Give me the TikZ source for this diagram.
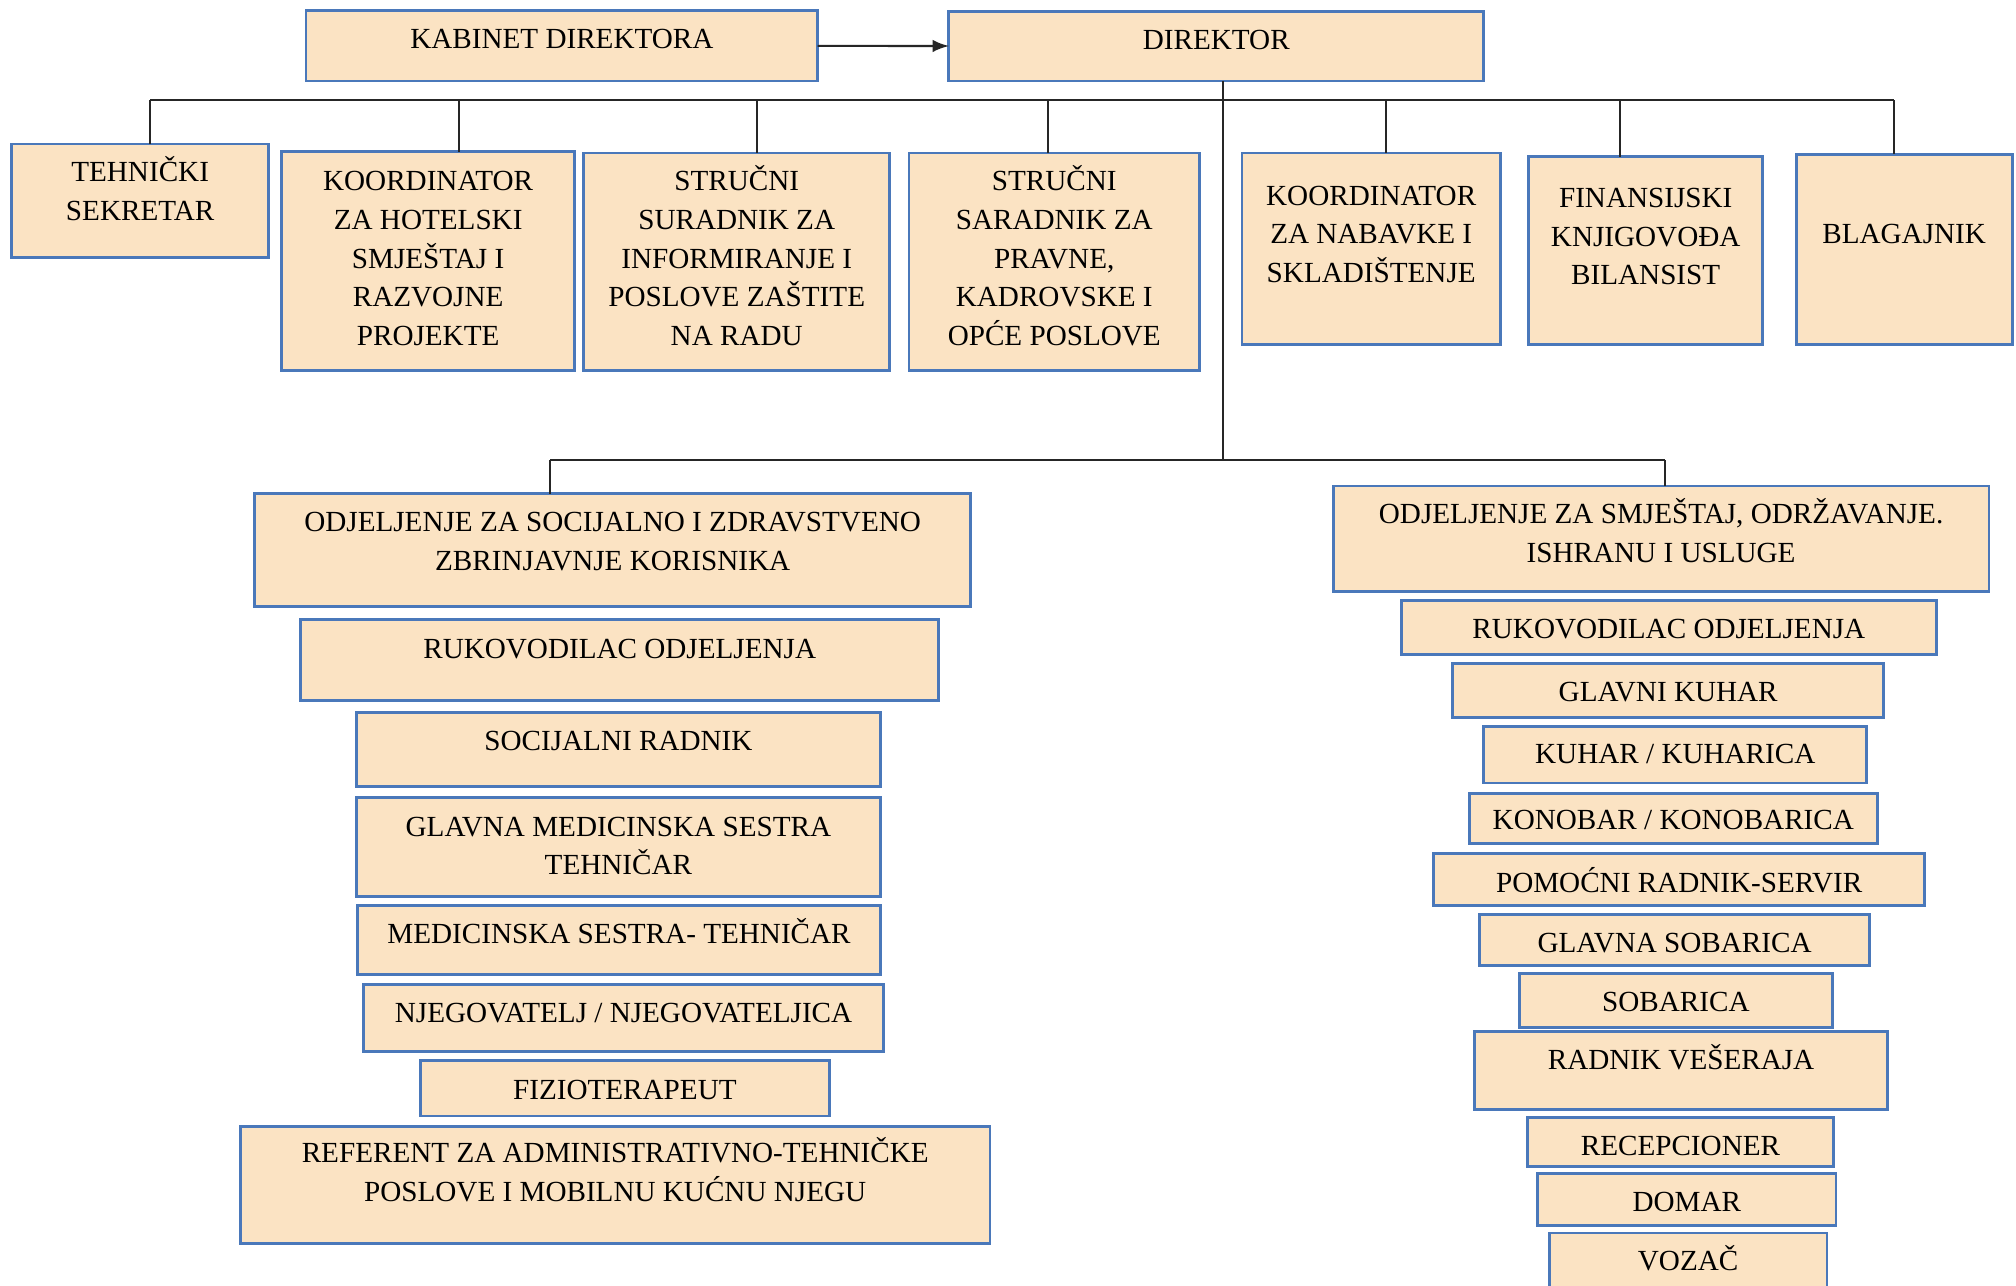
\documentclass[tikz,border=0pt]{standalone}
\usepackage{fontspec}
\setmainfont{Liberation Serif}
\usetikzlibrary{arrows,calc}
\newcommand{\myunit}{0.012857cm}
\definecolor{boxfill}{HTML}{FBE3C3}
\definecolor{boxline}{HTML}{4A78BA}
\tikzset{
    boxsty/.style={draw=boxline,fill=boxfill,line width=0.8pt,rectangle,inner sep=0pt,outer sep=0pt},
    txtsty/.style={inner sep=0pt,anchor=base,font=\fontsize{8.3}{11}\selectfont},
    linesty/.style={draw=black!85,line width=0.6pt},
}
% box from (x1,y1) to (x2,y2), text with first baseline at y
\newcommand{\orgbox}[7]{%
  \node[boxsty,minimum width={(#4-#2)*\myunit},minimum height={(#5-#3)*\myunit}] (#1) at ({(#2+#4)/2},{(#3+#5)/2}) {};
  \node[txtsty] (#1-t) at ({(#2+#4)/2},#6) {\begin{tabular}[t]{@{}c@{}}#7\end{tabular}};
}

\begin{document}
\begin{tikzpicture}[>=latex, x=\myunit, y=-\myunit]
  \clip (0,0) rectangle (1568,1000);
  \fill[white] (0,0) rectangle (1568,1000);

  % top
  \orgbox{kab}{238}{8}{636}{63}{37.5}{KABINET DIREKTORA}
  \orgbox{dir}{738}{9}{1154}{63}{38.5}{DIREKTOR}
  \draw[linesty,->] (kab) -- (dir);

  % staff row
  \orgbox{t1}{9}{112}{209}{200}{141.5}{TEHNIČKI\\SEKRETAR}
  \orgbox{t2}{219}{118}{447}{288}{148.5}{KOORDINATOR\\ZA HOTELSKI\\SMJEŠTAJ I\\RAZVOJNE\\PROJEKTE}
  \orgbox{t3}{454}{119}{692}{288}{148.5}{STRUČNI\\SURADNIK ZA\\INFORMIRANJE I\\POSLOVE ZAŠTITE\\NA RADU}
  \orgbox{t4}{707}{119}{933}{288}{148.5}{STRUČNI\\SARADNIK ZA\\PRAVNE,\\KADROVSKE I\\OPĆE POSLOVE}
  \orgbox{t5}{966}{119}{1167}{268}{159.5}{KOORDINATOR\\ZA NABAVKE I\\SKLADIŠTENJE}
  \orgbox{t6}{1189}{122}{1371}{268}{161.5}{FINANSIJSKI\\KNJIGOVOĐA\\BILANSIST}
  \orgbox{t7}{1397}{120}{1565}{268}{189.5}{BLAGAJNIK}

  \foreach \i/\dx in {1/117,2/357,3/589,4/815,5/1078,6/1260,7/1473}{
    \coordinate (d\i) at (\dx,78);
    \draw[linesty] (d\i) -- (d\i |- t\i.north);
  }
  \draw[linesty] (d1) -- (d7);

  % departments
  \orgbox{l0}{198}{384}{755}{472}{413.5}{ODJELJENJE ZA SOCIJALNO I ZDRAVSTVENO\\ZBRINJAVNJE KORISNIKA}
  \orgbox{l1}{234}{482}{730}{545}{512.5}{RUKOVODILAC ODJELJENJA}
  \orgbox{l2}{277}{554}{685}{612}{583.5}{SOCIJALNI RADNIK}
  \orgbox{l3}{277}{620}{685}{697}{650.5}{GLAVNA MEDICINSKA SESTRA\\TEHNIČAR}
  \orgbox{l4}{278}{704}{685}{758}{733.5}{MEDICINSKA SESTRA- TEHNIČAR}
  \orgbox{l5}{283}{766}{687}{818}{795.5}{NJEGOVATELJ / NJEGOVATELJICA}
  \orgbox{l6}{327}{825}{645}{868}{855.5}{FIZIOTERAPEUT}
  \orgbox{l7}{187}{876}{770}{967}{904.5}{REFERENT ZA ADMINISTRATIVNO-TEHNIČKE\\POSLOVE I MOBILNU KUĆNU NJEGU}

  \orgbox{r0}{1037}{378}{1547}{460}{407.5}{ODJELJENJE ZA SMJEŠTAJ, ODRŽAVANJE.\\ISHRANU I USLUGE}
  \orgbox{r1}{1090}{467}{1506}{509}{496.5}{RUKOVODILAC ODJELJENJA}
  \orgbox{r2}{1130}{516}{1465}{558}{545.5}{GLAVNI KUHAR}
  \orgbox{r3}{1154}{565}{1452}{609}{593.5}{KUHAR / KUHARICA}
  \orgbox{r4}{1143}{617}{1460}{656}{645.5}{KONOBAR / KONOBARICA}
  \orgbox{r5}{1115}{664}{1497}{704}{694.5}{POMOĆNI RADNIK-SERVIR}
  \orgbox{r6}{1151}{711}{1454}{751}{740.5}{GLAVNA SOBARICA}
  \orgbox{r7}{1182}{757}{1425}{799}{786.5}{SOBARICA}
  \orgbox{r8}{1147}{802}{1468}{863}{831.5}{RADNIK VEŠERAJA}
  \orgbox{r9}{1188}{869}{1426}{907}{898.5}{RECEPCIONER}
  \orgbox{r10}{1196}{913}{1428}{953}{942.5}{DOMAR}
  \orgbox{r11}{1205}{959}{1421}{1005}{988.5}{VOZAČ}

  \coordinate (split) at (951,358);
  \coordinate (sl) at (428,358);
  \coordinate (sr) at (1295,358);
  \draw[linesty] (split |- dir.south) -- (split);
  \draw[linesty] (sl) -- (sr);
  \draw[linesty] (sl) -- (sl |- l0.north);
  \draw[linesty] (sr) -- (sr |- r0.north);
\end{tikzpicture}
\end{document}
